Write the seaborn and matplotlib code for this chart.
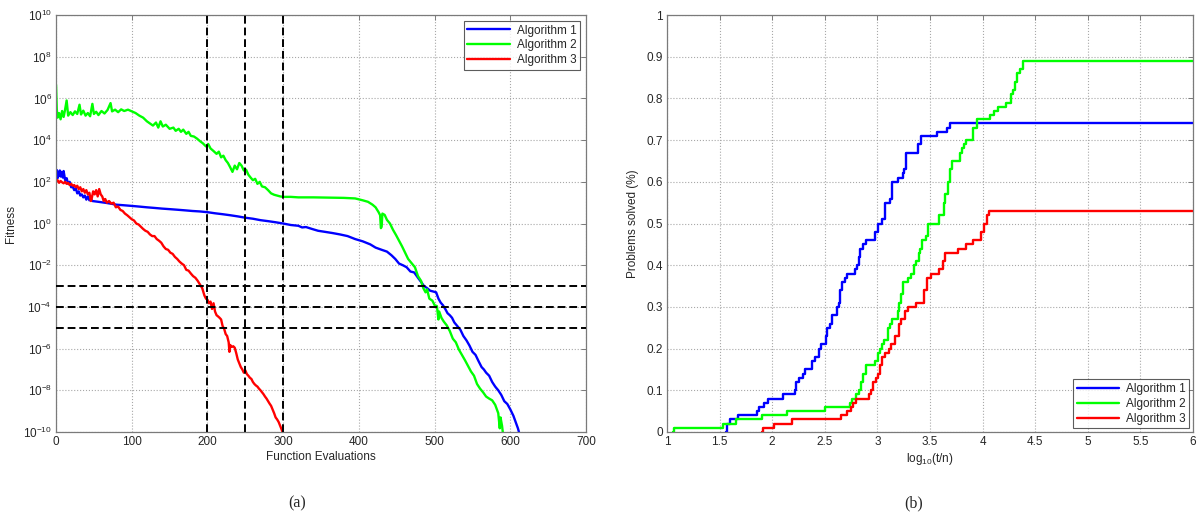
import matplotlib
matplotlib.use("Agg")
import matplotlib.pyplot as plt
import pandas as pd
import seaborn as sns

# ---- data: convergence curves (panel a) ----
alg1_fe = [0, 1, 2, 3, 4, 5, 6, 7, 8, 9, 10, 11, 12, 14, 16, 18, 20, 22, 24, 26, 28, 30, 32, 34, 36, 38,
           40, 42, 44, 46, 48, 52, 56, 60, 66, 72, 80, 90, 100, 110, 120, 130, 140, 150, 160, 170, 180,
           190, 200, 210, 220, 230, 240, 250, 260, 270, 280, 290, 300, 310, 320, 325, 330, 338, 346, 355,
           365, 375, 385, 395, 405, 415, 422, 430, 437, 443, 448, 453, 458, 463, 468, 473, 478, 482, 486,
           490, 494, 498, 502, 505, 508, 511, 514, 517, 520, 523, 526, 530, 534, 538, 542, 546, 550, 554,
           558, 562, 565, 568, 572, 576, 580, 584, 588, 592, 596, 600, 604, 607, 610, 613]
alg1_fit = [2e2, 3.7e2, 1.5e2, 3e2, 2e2, 3.5e2, 1.8e2, 3e2, 2.2e2, 1.6e2, 3.3e2, 2e2, 1.2e2, 1.5e2, 80,
            1e2, 55, 60, 40, 50, 28, 35, 22, 25, 18, 22, 14, 20, 13, 15, 12, 11.5, 11, 10.5, 9.8, 9, 8,
            7.5, 7, 6.5, 6, 5.6, 5.2, 4.9, 4.6, 4.3, 4, 3.8, 3.5, 3.1, 2.8, 2.5, 2.2, 1.9, 1.7, 1.45, 1.3,
            1.15, 1.0, 0.85, 0.78, 0.65, 0.68, 0.55, 0.45, 0.4, 0.35, 0.3, 0.25, 0.18, 0.14, 0.1, 0.07,
            0.055, 0.045, 0.03, 0.02, 0.012, 0.01, 8e-3, 5e-3, 4.5e-3, 2.5e-3, 1.6e-3, 1e-3, 8e-4, 6e-4,
            5.5e-4, 5e-4, 2.5e-4, 1.6e-4, 1.2e-4, 8e-5, 5e-5, 4e-5, 3e-5, 1.8e-5, 1.2e-5, 8e-6, 4e-6,
            2.5e-6, 1.4e-6, 7e-7, 5e-7, 2.5e-7, 1.3e-7, 1e-7, 7e-8, 5e-8, 2.5e-8, 1.5e-8, 1e-8, 6e-9,
            3e-9, 2.2e-9, 1.2e-9, 6e-10, 3e-10, 1.5e-10, 6e-11]

alg2_fe = [0, 1, 2, 4, 6, 8, 10, 12, 14, 16, 19, 22, 25, 28, 31, 33, 36, 39, 42, 45, 48, 50, 53, 56, 60,
           64, 68, 72, 74, 78, 82, 86, 90, 95, 100, 105, 110, 115, 120, 125, 128, 132, 135, 138, 141,
           145, 150, 155, 158, 162, 165, 168, 172, 175, 178, 182, 186, 190, 194, 198, 201, 204, 208, 212,
           215, 218, 221, 224, 227, 230, 233, 236, 239, 242, 245, 248, 251, 254, 257, 260, 263, 266, 269,
           272, 276, 280, 284, 288, 292, 296, 300, 310, 320, 340, 360, 380, 395, 405, 412, 418, 422, 426,
           428, 429, 430, 431, 434, 437, 441, 445, 449, 453, 457, 461, 465, 470, 474, 478, 482, 485, 488,
           490, 493, 497, 500, 503, 505, 506, 509, 512, 516, 520, 524, 528, 532, 536, 540, 544, 548, 552,
           556, 560, 564, 568, 572, 576, 580, 584, 586, 587, 589, 591]
alg2_fit = [4.5e6, 3e5, 1.2e5, 2e5, 1e5, 2.5e5, 1.3e5, 3e5, 8e5, 1.5e5, 2.2e5, 1.6e5, 2.4e5, 1.8e5, 5e5,
            1.7e5, 2.6e5, 1.5e5, 2e5, 1.4e5, 5.5e5, 1.8e5, 2.3e5, 1.6e5, 2.5e5, 1.9e5, 2.8e5, 6e5, 2.4e5,
            2.9e5, 2.2e5, 3e5, 2.5e5, 2.9e5, 2.4e5, 2e5, 1.5e5, 1.2e5, 8e4, 6e4, 5e4, 7e4, 4e4, 8e4, 4.5e4,
            5.5e4, 3.5e4, 4e4, 2.8e4, 3.5e4, 2.5e4, 3.2e4, 2e4, 2.5e4, 1.6e4, 1.5e4, 1.2e4, 9e3, 7e3, 5e3,
            6.5e3, 4e3, 3e3, 2.2e3, 2.8e3, 1.5e3, 1.8e3, 1.1e3, 8e2, 5e2, 3e2, 6e2, 4e2, 8e2, 6e2, 3.5e2,
            3.8e2, 2.2e2, 1.6e2, 1.2e2, 1.4e2, 80, 1e2, 60, 55, 40, 28, 24, 22, 20, 19, 19, 18, 18, 17.5,
            17, 16, 13, 11, 8, 6, 3.5, 2.5, 0.6, 0.7, 3, 2.6, 1.5, 1, 0.5, 0.28, 0.15, 0.08, 0.04, 0.02,
            0.012, 8e-3, 3e-3, 1.8e-3, 8e-4, 5e-4, 7e-4, 2.5e-4, 2e-4, 1.2e-4, 1.1e-4, 2.5e-5, 6e-5, 3e-5,
            2e-5, 1.3e-5, 7e-6, 3e-6, 2e-6, 9e-7, 5e-7, 2.8e-7, 1.5e-7, 8e-8, 5e-8, 2e-8, 1.2e-8, 8e-9,
            5e-9, 4e-9, 3.3e-9, 2e-9, 8e-10, 1.5e-10, 5e-10, 2e-10, 5e-11]

alg3_fe = [0, 2, 4, 6, 8, 10, 12, 14, 16, 18, 20, 22, 24, 26, 28, 30, 32, 34, 36, 38, 40, 42, 44, 46, 47,
           49, 51, 53, 55, 57, 59, 61, 63, 65, 67, 70, 73, 76, 79, 82, 85, 88, 91, 94, 97, 100, 103, 106,
           109, 112, 115, 118, 121, 124, 127, 130, 133, 136, 139, 142, 145, 148, 151, 154, 157, 160, 163,
           166, 169, 172, 175, 178, 181, 184, 187, 190, 193, 196, 198, 200, 202, 204, 206, 208, 210, 212,
           214, 216, 218, 220, 222, 224, 226, 228, 229, 230, 232, 234, 236, 238, 240, 242, 244, 246, 248,
           250, 252, 254, 256, 258, 260, 262, 264, 266, 268, 270, 272, 274, 276, 278, 280, 282, 284, 286,
           288, 290, 292, 294, 296, 298, 300]
alg3_fit = [1e2, 1.2e2, 90, 1.1e2, 95, 85, 1e2, 80, 90, 70, 80, 65, 70, 55, 65, 45, 55, 35, 45, 30, 40,
            25, 30, 12, 15, 35, 25, 40, 20, 45, 25, 20, 12, 15, 10, 12, 9, 10, 6, 6.5, 4.5, 4, 3, 2.5, 2,
            1.6, 1.4, 1.0, 0.9, 0.7, 0.55, 0.45, 0.4, 0.3, 0.25, 0.25, 0.18, 0.15, 0.12, 0.08, 0.06, 0.055,
            0.04, 0.035, 0.025, 0.02, 0.015, 0.012, 0.01, 6e-3, 5.5e-3, 4e-3, 3e-3, 2.5e-3, 1.8e-3, 1.2e-3,
            8e-4, 3.5e-4, 2.5e-4, 2.2e-4, 1.5e-4, 1.8e-4, 8e-5, 1.5e-4, 6e-5, 4e-5, 3.5e-5, 3e-5, 2.5e-5,
            1.2e-5, 9e-6, 5e-6, 4e-6, 2e-6, 7e-7, 1.5e-6, 1.2e-6, 1.3e-6, 1.1e-6, 6e-7, 3e-7, 2e-7,
            1.3e-7, 1e-7, 7e-8, 9e-8, 6e-8, 5e-8, 4e-8, 3.5e-8, 2.5e-8, 2e-8, 1.7e-8, 1.5e-8, 1.2e-8,
            1e-8, 8e-9, 6.5e-9, 5e-9, 4e-9, 3e-9, 2.3e-9, 1.8e-9, 1.2e-9, 8e-10, 5e-10, 4e-10, 3e-10,
            2e-10, 1.3e-10, 8e-11]

# ---- data: performance profiles (panel b), step points ----
alg1_t = [1.565, 1.57, 1.599, 1.672, 1.853, 1.871, 1.922, 1.962, 2.107, 2.216, 2.231, 2.253, 2.289, 2.314,
          2.380, 2.405, 2.441, 2.467, 2.514, 2.525, 2.550, 2.569, 2.612, 2.634, 2.648, 2.667, 2.688, 2.707,
          2.786, 2.805, 2.823, 2.834, 2.859, 2.895, 2.975, 3.004, 3.041, 3.077, 3.121, 3.142, 3.197, 3.240,
          3.251, 3.277, 3.386, 3.415, 3.568, 3.658, 3.694, 6.0]
alg1_p = [0.0, 0.02, 0.03, 0.04, 0.05, 0.06, 0.07, 0.08, 0.09, 0.10, 0.12, 0.13, 0.14, 0.15, 0.17, 0.18,
          0.20, 0.21, 0.23, 0.25, 0.26, 0.28, 0.30, 0.31, 0.34, 0.36, 0.37, 0.38, 0.39, 0.40, 0.42, 0.44,
          0.45, 0.46, 0.48, 0.50, 0.51, 0.55, 0.56, 0.60, 0.61, 0.62, 0.63, 0.67, 0.69, 0.71, 0.72, 0.73,
          0.74, 0.74]

alg2_t = [1.062, 1.065, 1.534, 1.654, 1.908, 2.144, 2.500, 2.743, 2.761, 2.794, 2.823, 2.841, 2.859, 2.888,
          2.975, 3.004, 3.026, 3.048, 3.059, 3.102, 3.124, 3.142, 3.193, 3.208, 3.222, 3.248, 3.295, 3.324,
          3.353, 3.367, 3.397, 3.410, 3.422, 3.458, 3.484, 3.585, 3.633, 3.647, 3.669, 3.687, 3.712, 3.785,
          3.803, 3.821, 3.847, 3.912, 3.948, 4.075, 4.112, 4.148, 4.221, 4.268, 4.293, 4.311, 4.330, 4.355,
          4.384, 6.0]
alg2_p = [0.0, 0.01, 0.02, 0.03, 0.04, 0.05, 0.06, 0.07, 0.08, 0.09, 0.10, 0.12, 0.14, 0.16, 0.17, 0.19,
          0.20, 0.21, 0.22, 0.25, 0.26, 0.27, 0.29, 0.31, 0.33, 0.36, 0.37, 0.38, 0.40, 0.41, 0.43, 0.44,
          0.46, 0.47, 0.50, 0.52, 0.55, 0.57, 0.60, 0.63, 0.65, 0.67, 0.68, 0.69, 0.70, 0.73, 0.75, 0.76,
          0.77, 0.78, 0.79, 0.81, 0.82, 0.84, 0.86, 0.87, 0.89, 0.89]

alg3_t = [1.908, 1.912, 2.017, 2.187, 2.659, 2.714, 2.750, 2.768, 2.794, 2.917, 2.939, 2.957, 2.986, 3.004,
          3.022, 3.048, 3.077, 3.113, 3.131, 3.168, 3.204, 3.222, 3.259, 3.295, 3.367, 3.440, 3.476, 3.513,
          3.585, 3.622, 3.640, 3.767, 3.840, 3.912, 3.985, 4.014, 4.039, 4.057, 6.0]
alg3_p = [0.0, 0.01, 0.02, 0.03, 0.04, 0.05, 0.06, 0.07, 0.08, 0.09, 0.10, 0.12, 0.13, 0.14, 0.16, 0.18,
          0.19, 0.20, 0.21, 0.23, 0.26, 0.27, 0.29, 0.30, 0.31, 0.34, 0.37, 0.38, 0.39, 0.41, 0.43, 0.44,
          0.45, 0.46, 0.48, 0.50, 0.52, 0.53, 0.53]

names = ['Algorithm 1', 'Algorithm 2', 'Algorithm 3']
colors = {'Algorithm 1': '#0000ff', 'Algorithm 2': '#00ff00', 'Algorithm 3': '#ff0000'}
fe_marks = [200, 250, 300]
fit_marks = [1e-3, 1e-4, 1e-5]

conv = pd.concat([
    pd.DataFrame({'fe': alg1_fe, 'fit': alg1_fit, 'alg': names[0]}),
    pd.DataFrame({'fe': alg2_fe, 'fit': alg2_fit, 'alg': names[1]}),
    pd.DataFrame({'fe': alg3_fe, 'fit': alg3_fit, 'alg': names[2]}),
], ignore_index=True)
prof = pd.concat([
    pd.DataFrame({'t': alg1_t, 'p': alg1_p, 'alg': names[0]}),
    pd.DataFrame({'t': alg2_t, 'p': alg2_p, 'alg': names[1]}),
    pd.DataFrame({'t': alg3_t, 'p': alg3_p, 'alg': names[2]}),
], ignore_index=True)

sns.set_style('white')
plt.rcParams['font.family'] = ['Liberation Sans', 'DejaVu Sans']
plt.rcParams['mathtext.fontset'] = 'custom'
plt.rcParams['mathtext.rm'] = 'Liberation Sans'
plt.rcParams['mathtext.it'] = 'Liberation Sans:italic'
plt.rcParams['axes.unicode_minus'] = False

fig = plt.figure(figsize=(12, 5.16), dpi=100)
ax1 = fig.add_axes([0.0467, 0.1628, 0.4417, 0.808])
ax2 = fig.add_axes([0.5558, 0.1628, 0.4383, 0.808])

frame = '#7a7a7a'
fs = 8.5

def style_axes(ax):
    for s in ax.spines.values():
        s.set_color(frame)
        s.set_linewidth(0.9)
    ax.tick_params(direction='in', top=True, right=True, length=3.5, width=0.7,
                   color=frame, labelsize=fs, pad=3)
    ax.grid(True, linestyle=':', color='#a8a8a8', linewidth=0.8)
    ax.set_axisbelow(True)

# panel (a)
sns.lineplot(data=conv, x='fe', y='fit', hue='alg', palette=colors, estimator=None,
             sort=False, linewidth=1.7, ax=ax1)
ax1.set_yscale('log')
ax1.set_xlim(0, 700)
ax1.set_ylim(1e-10, 1e10)
ax1.set_xticks(range(0, 701, 100))
ax1.set_yticks([10.0 ** k for k in range(-10, 11, 2)])
ax1.minorticks_off()
for v in fe_marks:
    ax1.axvline(v, color='black', linestyle=(0, (4, 2)), linewidth=1.4, zorder=3)
for v in fit_marks:
    ax1.axhline(v, color='black', linestyle=(0, (4, 2)), linewidth=1.4, zorder=3)
ax1.set_xlabel('Function Evaluations', fontsize=fs, labelpad=2)
ax1.set_ylabel('Fitness', fontsize=fs, labelpad=4)
style_axes(ax1)
leg1 = ax1.legend(loc='upper right', fontsize=fs, frameon=True, fancybox=False,
                  edgecolor='#333333', handlelength=3.6, borderaxespad=0.5,
                  labelspacing=0.25, borderpad=0.3, handletextpad=0.6)
leg1.get_frame().set_linewidth(0.8)

# panel (b)
sns.lineplot(data=prof, x='t', y='p', hue='alg', palette=colors, estimator=None,
             sort=False, linewidth=1.7, drawstyle='steps-post', ax=ax2)
ax2.set_xlim(1, 6)
ax2.set_ylim(0, 1)
ax2.set_xticks([1, 1.5, 2, 2.5, 3, 3.5, 4, 4.5, 5, 5.5, 6])
ax2.set_xticklabels(['1', '1.5', '2', '2.5', '3', '3.5', '4', '4.5', '5', '5.5', '6'])
ax2.set_yticks([0, 0.1, 0.2, 0.3, 0.4, 0.5, 0.6, 0.7, 0.8, 0.9, 1])
ax2.set_yticklabels(['0', '0.1', '0.2', '0.3', '0.4', '0.5', '0.6', '0.7', '0.8', '0.9', '1'])
ax2.set_xlabel(r'log$_{10}$(t/n)', fontsize=fs, labelpad=2)
ax2.set_ylabel('Problems solved (%)', fontsize=fs, labelpad=5)
style_axes(ax2)
leg2 = ax2.legend(loc='lower right', fontsize=fs, frameon=True, fancybox=False,
                  edgecolor='#333333', handlelength=3.6, borderaxespad=0.3,
                  labelspacing=0.25, borderpad=0.3, handletextpad=0.6)
leg2.get_frame().set_linewidth(0.8)

fig.text(0.2475, 0.025, '(a)', ha='center', va='center', fontsize=11.5, family='Liberation Serif')
fig.text(0.761, 0.025, '(b)', ha='center', va='center', fontsize=11.5, family='Liberation Serif')

fig.savefig('out.png', dpi=100)
